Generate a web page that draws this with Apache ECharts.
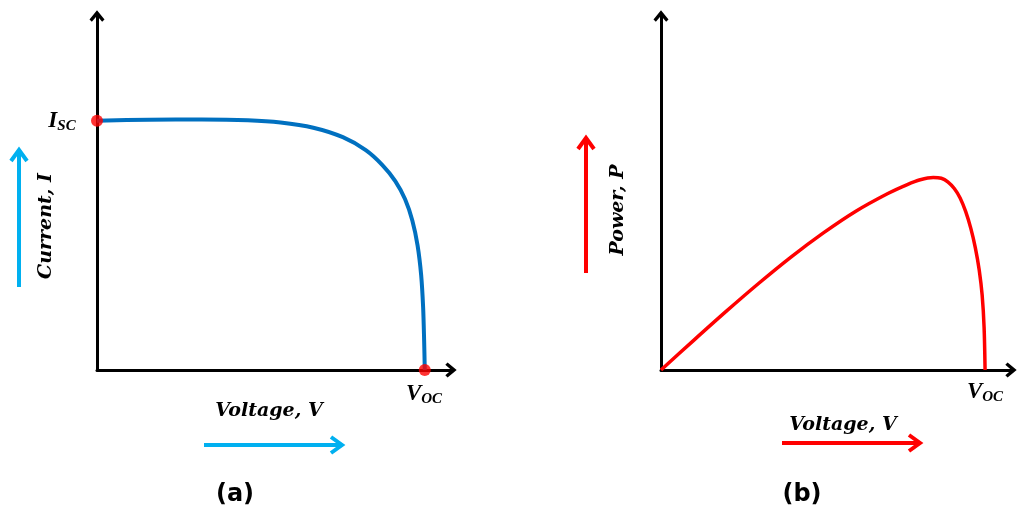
<!DOCTYPE html>
<html>
<head>
<meta charset="utf-8">
<script src="https://cdn.jsdelivr.net/npm/echarts@6/dist/echarts.min.js"></script>
<style>
  html, body { margin: 0; padding: 0; background: #fff; }
  #chart { width: 1018px; height: 513px; }
</style>
</head>
<body>
<div id="chart"></div>
<script>
// I–V characteristic (normalised: Isc = 1, Voc = 1)
const ivVoltage = [0, 0.16, 0.32, 0.46, 0.56, 0.66, 0.75, 0.82, 0.87, 0.91, 0.94, 0.962, 0.978, 0.989, 0.995, 0.998, 1.0];
const ivCurrent = [1.0, 1.004, 1.005, 1.002, 0.993, 0.972, 0.934, 0.882, 0.823, 0.758, 0.685, 0.600, 0.500, 0.380, 0.250, 0.120, 0];

// P–V characteristic (same normalisation)
const pvVoltage = [0, 0.1, 0.2, 0.3, 0.4, 0.5, 0.6, 0.7, 0.76, 0.8, 0.84, 0.865, 0.885, 0.905, 0.923, 0.94, 0.956, 0.97, 0.982, 0.991, 0.997, 1.0];
const pvPower   = [0, 0.118, 0.234, 0.346, 0.452, 0.549, 0.636, 0.708, 0.744, 0.763, 0.772, 0.769, 0.755, 0.728, 0.690, 0.636, 0.568, 0.490, 0.400, 0.300, 0.170, 0];

// Marked operating points: short-circuit and open-circuit
const keyPoints = [[0, 1], [1, 0]];

const axisMax = { x: 1.08, y: 1.42 };

const chevron = 'path://M7,0 L14,8.5 L11.8,10.6 L7,5 L2.2,10.6 L0,8.5 Z';

function pairs(xs, ys) { return xs.map((x, i) => [x, ys[i]]); }

function baseAxis(gridIndex, max) {
  return {
    type: 'value', gridIndex, min: 0, max,
    axisLine: { show: true, onZero: false, symbol: ['none', chevron], symbolSize: [15, 11.5],
      lineStyle: { color: '#000', width: 3 } },
    axisTick: { show: false }, axisLabel: { show: false }, splitLine: { show: false }
  };
}

const serifFont = 'italic bold 19px "DejaVu Serif", "Liberation Serif", serif';

function label(text, x, y, opts = {}) {
  return {
    type: 'text', x, y, rotation: opts.rotation || 0,
    style: Object.assign({
      text, font: serifFont, fill: '#000', align: 'center', verticalAlign: 'middle'
    }, opts.style || {})
  };
}

function subLabel(main, sub, x, y) {
  return {
    type: 'text', x, y,
    style: {
      text: '{m|' + main + '}{s|' + sub + '}', align: 'center', verticalAlign: 'middle',
      rich: {
        m: { font: 'italic bold 23px "Liberation Serif", serif', fill: '#000', lineHeight: 26, verticalAlign: 'middle' },
        s: { font: 'italic bold 15px "Liberation Serif", serif', fill: '#000', lineHeight: 16, verticalAlign: 'bottom' }
      }
    }
  };
}

function arrow(x1, y1, x2, y2, color) {
  const dx = x2 - x1, dy = y2 - y1, len = Math.hypot(dx, dy);
  const ux = dx / len, uy = dy / len, head = 11, half = 8;
  return {
    type: 'group',
    children: [
      { type: 'line', shape: { x1, y1, x2: x2 - ux * 2, y2: y2 - uy * 2 },
        style: { stroke: color, lineWidth: 4 } },
      { type: 'polyline', shape: { points: [
          [x2 - ux * head - uy * half, y2 - uy * head + ux * half],
          [x2, y2],
          [x2 - ux * head + uy * half, y2 - uy * head - ux * half]
        ] },
        style: { stroke: color, lineWidth: 4, fill: null, lineJoin: 'miter' } }
    ]
  };
}

const chart = echarts.init(document.getElementById('chart'), null, { renderer: 'canvas' });

chart.setOption({
  backgroundColor: '#fff',
  animation: false,
  grid: [
    { left: 97, top: 16, width: 354, height: 354 },
    { left: 661, top: 16, width: 350, height: 354 }
  ],
  xAxis: [baseAxis(0, axisMax.x), baseAxis(1, axisMax.x)],
  yAxis: [baseAxis(0, axisMax.y), baseAxis(1, axisMax.y)],
  series: [
    {
      type: 'line', xAxisIndex: 0, yAxisIndex: 0, data: pairs(ivVoltage, ivCurrent),
      smooth: 0.3, showSymbol: false, lineStyle: { color: '#0070C0', width: 4 }, z: 3
    },
    {
      type: 'scatter', xAxisIndex: 0, yAxisIndex: 0, data: keyPoints,
      symbolSize: 12, itemStyle: { color: '#FF0000' }, z: 4
    },
    {
      type: 'line', xAxisIndex: 1, yAxisIndex: 1, data: pairs(pvVoltage, pvPower),
      smooth: 0.3, showSymbol: false, lineStyle: { color: '#FF0000', width: 3.5 }, z: 3
    }
  ],
  graphic: [
    // panel (a)
    subLabel('I', 'SC', 62, 121),
    subLabel('V', 'OC', 424, 394),
    label('Current, I', 46, 226, { rotation: Math.PI / 2 }),
    label('Voltage, V', 269, 411),
    arrow(19, 287, 19, 150, '#00B0F0'),
    arrow(204, 445, 342, 445, '#00B0F0'),
    label('(a)', 235, 495, { style: { font: 'bold 24px "DejaVu Sans", "Liberation Sans", sans-serif' } }),
    // panel (b)
    subLabel('V', 'OC', 985, 392),
    label('Power, P', 618, 210, { rotation: Math.PI / 2 }),
    label('Voltage, V', 843, 425),
    arrow(782, 443, 920, 443, '#FF0000'),
    arrow(586, 273, 586, 138, '#FF0000'),
    label('(b)', 802, 495, { style: { font: 'bold 24px "DejaVu Sans", "Liberation Sans", sans-serif' } })
  ]
});
</script>
</body>
</html>
